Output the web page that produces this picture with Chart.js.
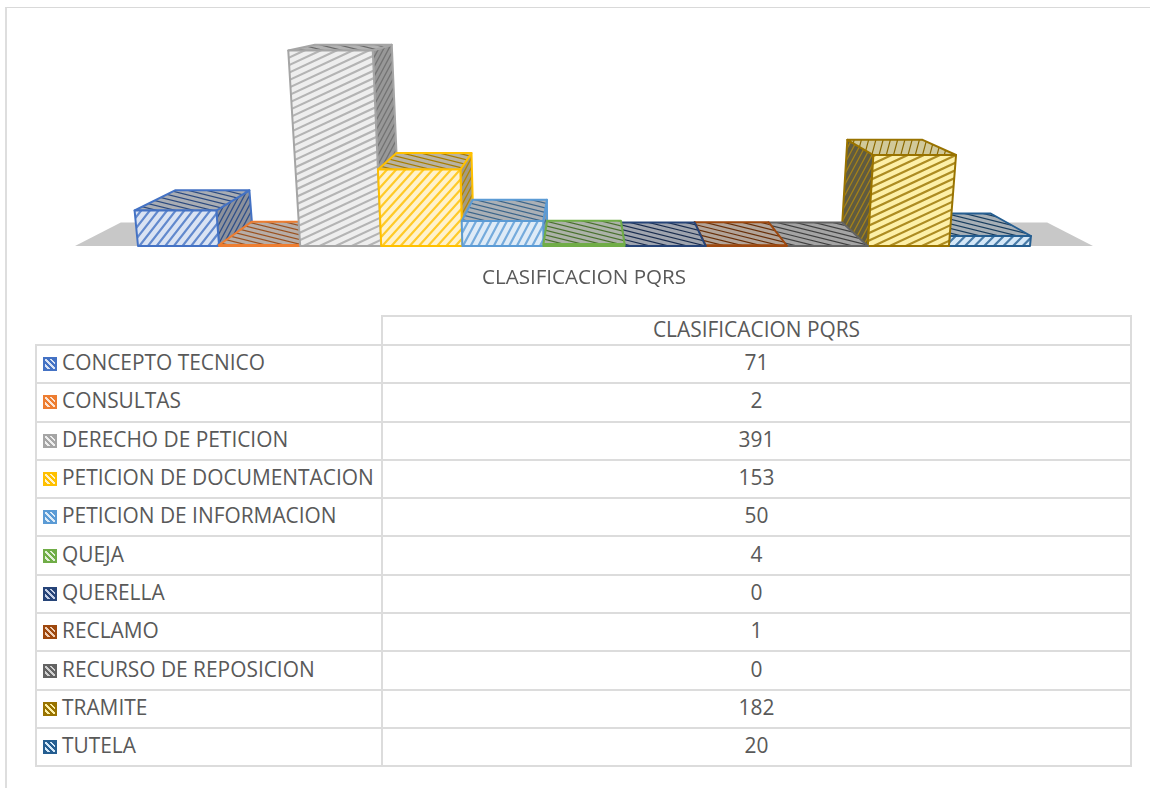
<!DOCTYPE html>
<html lang="es">
<head>
    <meta charset="UTF-8">
    <title>CLASIFICACION PQRS</title>
    <script src="https://cdn.jsdelivr.net/npm/chart.js@4/dist/chart.umd.js"></script>
    <style>
        html, body { margin: 0; padding: 0; background: #fff; }
        body { position: relative; width: 1150px; height: 788px; overflow: hidden; font-family: "Open Sans", sans-serif; color: #595959; }
        #frame { position: absolute; left: 5px; top: 7px; right: 0; bottom: 0; border-left: 2px solid #dedede; border-top: 1px solid #d9d9d9; }
        #myChart { position: absolute; left: 0; top: 0; }
        table { position: absolute; left: 35px; top: 315px; width: 1097px; border-collapse: collapse; table-layout: fixed; font-size: 20.9px; }
        td { border: 2px solid #dcdcdc; padding: 0 0 4px 0; text-align: center; white-space: nowrap; line-height: 22px; box-sizing: border-box; }
        td.name { text-align: left; padding-left: 6px; }
        td.blank { border-top: none; border-left: none; }
        .key { display: inline-block; width: 10px; height: 10px; margin-right: 5px; vertical-align: -1px; border: 2px solid; }
    </style>
</head>
<body>
    <div id="frame"></div>
    <canvas id="myChart" width="1150" height="288"></canvas>
    <table id="dataTable"></table>

<script type="text/javascript">
    const seriesName = 'CLASIFICACION PQRS';
    const categories = ['CONCEPTO TECNICO', 'CONSULTAS', 'DERECHO DE PETICION', 'PETICION DE DOCUMENTACION',
        'PETICION DE INFORMACION', 'QUEJA', 'QUERELLA', 'RECLAMO', 'RECURSO DE REPOSICION', 'TRAMITE', 'TUTELA'];
    const values = [71, 2, 391, 153, 50, 4, 0, 1, 0, 182, 20];

    // colores de cada barra
    const lineColors = ['#4472c4', '#ed7d31', '#a5a5a5', '#ffc000', '#5b9bd5', '#70ad47', '#264478', '#9e480e', '#636363', '#997300', '#255e91'];
    const tints = ['#dae3f3', '#fbe5d6', '#eeeeee', '#fff2cc', '#deebf7', '#e2f0d9', '#c5d0e6', '#f0d0b8', '#d0d0d0', '#fdf0a8', '#d5e8f8'];
    const hatchAngles = [52, 45, 25, 48, 62, 45, 45, 45, 45, 25, 45];

    function mix(a, b, t) {
        const pa = parseInt(a.slice(1), 16), pb = parseInt(b.slice(1), 16);
        const ch = s => Math.round(((pa >> s) & 255) * (1 - t) + ((pb >> s) & 255) * t);
        return '#' + [ch(16), ch(8), ch(0)].map(v => v.toString(16).padStart(2, '0')).join('');
    }

    function poly(ctx, pts) {
        ctx.beginPath();
        pts.forEach((p, i) => i ? ctx.lineTo(p[0], p[1]) : ctx.moveTo(p[0], p[1]));
        ctx.closePath();
    }

    // cara rellena con rayado diagonal
    function face(ctx, pts, bg, line, border, angle, gap, lw) {
        ctx.save();
        poly(ctx, pts);
        ctx.fillStyle = bg;
        ctx.fill();
        ctx.clip();
        const xs = pts.map(p => p[0]), ys = pts.map(p => p[1]);
        const cx = (Math.min(...xs) + Math.max(...xs)) / 2, cy = (Math.min(...ys) + Math.max(...ys)) / 2;
        const r = Math.hypot(Math.max(...xs) - Math.min(...xs), Math.max(...ys) - Math.min(...ys)) / 2 + gap;
        const a = -angle * Math.PI / 180;
        ctx.strokeStyle = line;
        ctx.lineWidth = lw;
        ctx.beginPath();
        for (let o = -r; o <= r; o += gap) {
            const mx = cx - Math.sin(a) * o, my = cy + Math.cos(a) * o;
            ctx.moveTo(mx - Math.cos(a) * r, my - Math.sin(a) * r);
            ctx.lineTo(mx + Math.cos(a) * r, my + Math.sin(a) * r);
        }
        ctx.stroke();
        ctx.restore();
        poly(ctx, pts);
        ctx.strokeStyle = border;
        ctx.lineWidth = 2;
        ctx.lineJoin = 'round';
        ctx.stroke();
    }

    // perspectiva: punto de fuga arriba al centro, verticales que convergen hacia abajo
    const vanishY = -14;
    const depth = 0.09;
    const lean = 0.000215;

    const bars3d = {
        id: 'bars3d',
        beforeDatasetsDraw(chart) {
            const ctx = chart.ctx, area = chart.chartArea;
            const vx = (area.left + area.right) / 2;
            const back = p => [p[0] + (vx - p[0]) * depth, p[1] + (vanishY - p[1]) * depth];
            const fl = area.left - 63, fr = area.right + 63;
            poly(ctx, [[fl, area.bottom], back([fl, area.bottom]), back([fr, area.bottom]), [fr, area.bottom]]);
            ctx.fillStyle = '#c8c8c8';
            ctx.fill();
        },
        beforeDatasetDraw(chart, args) {
            const ctx = chart.ctx, area = chart.chartArea;
            const vx = (area.left + area.right) / 2;
            const els = args.meta.data;
            const back = p => [p[0] + (vx - p[0]) * depth, p[1] + (vanishY - p[1]) * depth];

            // de afuera hacia el centro para que se tapen bien
            const order = [];
            for (let a = 0, b = els.length - 1; a <= b; a++, b--) {
                order.push(a);
                if (a !== b) order.push(b);
            }

            order.forEach(i => {
                const el = els[i];
                const h = el.base - el.y;
                const l = el.x - el.width / 2, r = el.x + el.width / 2;
                const top = x => [vx + (x - vx) * (1 + lean * h), el.y];
                const c = lineColors[i], tint = tints[i];

                if (r < vx) {
                    face(ctx, [[r, el.base], top(r), back(top(r)), back([r, el.base])],
                        mix(tint, '#000000', 0.36), mix(c, '#000000', 0.3), c, 62, 4.5, 1.3);
                }
                if (l > vx) {
                    face(ctx, [[l, el.base], top(l), back(top(l)), back([l, el.base])],
                        mix(tint, '#000000', 0.62), mix(c, '#ffffff', 0.1), c, 62, 5, 1.3);
                }
                face(ctx, [top(l), top(r), back(top(r)), back(top(l))],
                    mix(tint, '#808080', i === 9 ? 0.35 : 0.55), mix(c, '#000000', i === 9 ? 0.1 : 0.35), c, i === 9 ? 75 : -14, i === 9 ? 7 : 4.5, 1.2);
                face(ctx, [[l, el.base], [r, el.base], top(r), top(l)],
                    tint, mix(c, tint, 0.2), c, hatchAngles[i], 6.8, 2.2);
            });
            return false;
        }
    };

    window.pqrsChart = new Chart(document.getElementById('myChart').getContext('2d'), {
        type: 'bar',
        data: {
            labels: categories,
            datasets: [{
                label: seriesName,
                data: values,
                backgroundColor: lineColors,
                barPercentage: 1,
                categoryPercentage: 1
            }]
        },
        options: {
            responsive: false,
            animation: false,
            devicePixelRatio: 1,
            layout: { padding: { left: 138, right: 120, top: 46, bottom: 0 } },
            plugins: { legend: { display: false }, tooltip: { enabled: false } },
            scales: {
                x: {
                    grid: { display: false },
                    border: { display: false },
                    ticks: { display: false },
                    title: {
                        display: true,
                        text: seriesName,
                        color: '#595959',
                        font: { family: '"Open Sans"', size: 20.6, lineHeight: '20px' },
                        padding: { top: 14, bottom: 0 }
                    }
                },
                y: { display: false, min: 0, max: 400 }
            }
        },
        plugins: [bars3d]
    });

    // tabla de datos con claves de leyenda
    let rows = '<tr style="height:29px"><td class="blank" style="width:346px"></td><td>' + seriesName + '</td></tr>';
    categories.forEach((name, i) => {
        const key = 'border-color:' + lineColors[i] + ';background:repeating-linear-gradient(45deg,' +
            lineColors[i] + ' 0 2px,' + tints[i] + ' 2px 4px)';
        rows += '<tr style="height:38.3px"><td class="name"><span class="key" style="' + key + '"></span>' + name +
            '</td><td>' + values[i] + '</td></tr>';
    });
    document.getElementById('dataTable').innerHTML = rows;
</script>
</body>
</html>
